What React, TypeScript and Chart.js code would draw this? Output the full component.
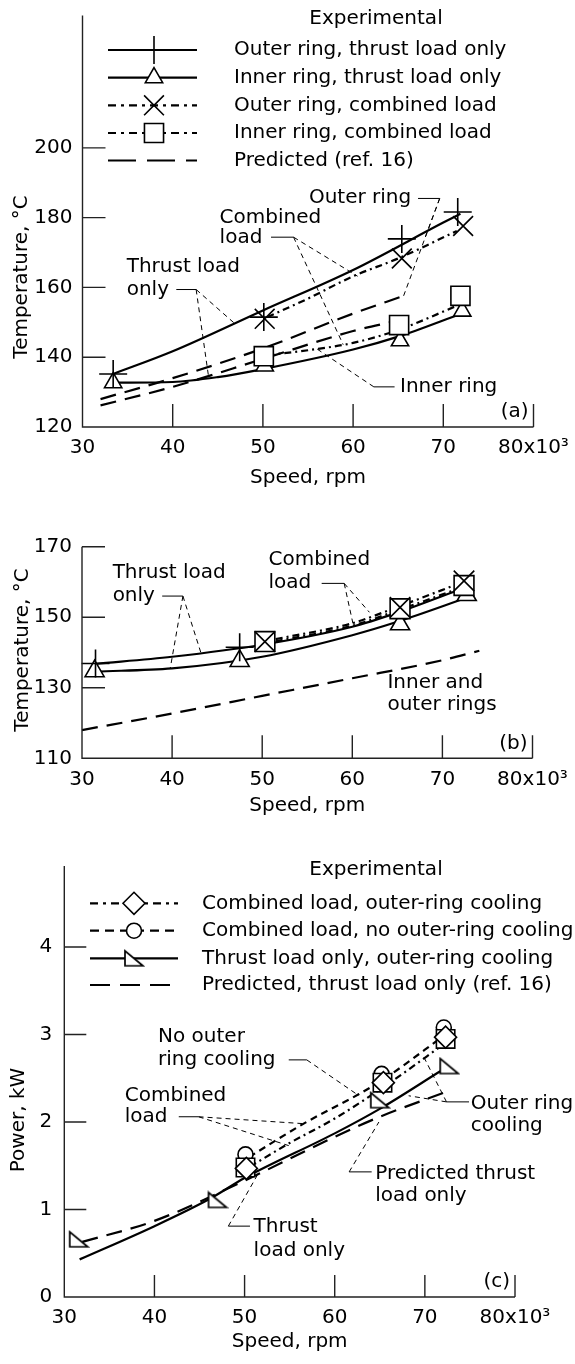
import React, { useEffect, useRef } from 'react';
import { Chart, registerables } from 'chart.js';
import { drawPoint } from 'chart.js/helpers';

Chart.register(...registerables);

const FONT_FAMILY = '"DejaVu Sans", "Liberation Sans", sans-serif';
const FONT_SIZE = 20;
const INK = '#000';
const AXIS_INK = '#222';

// ---------- shared axis data ----------
const speedTicks = [30, 40, 50, 60, 70, 80];
const speedTickLabels = ['30', '40', '50', '60', '70', '80x10³'];
const speedTitle = 'Speed, rpm';

// ---------- panel (a) ----------
const aTempTicks = [120, 140, 160, 180, 200];
const aTempRange = [120, 237.9];
const aTempTitle = 'Temperature, °C';
const aTag = '(a)';
const aHeader = 'Experimental';

const aOuterThrustMarkSpeed = [33.4, 50.1, 65.4, 71.6];
const aOuterThrustMarkTemp = [135.2, 151.5, 173.9, 181.6];
const aInnerThrustMarkSpeed = [33.4, 50.2, 65.2, 72.1];
const aInnerThrustMarkTemp = [132.7, 137.5, 144.7, 153.2];
const aOuterCombMarkSpeed = [50.2, 65.4, 72.2];
const aOuterCombMarkTemp = [151.0, 168.3, 177.6];
const aInnerCombMarkSpeed = [50.1, 65.1, 71.9];
const aInnerCombMarkTemp = [140.3, 149.2, 157.6];

const aOuterThrustCurveSpeed = [33.4, 40, 50, 60, 70, 71.9];
const aOuterThrustCurveTemp = [135.2, 141.7, 153.4, 165.0, 178.6, 181.1];
const aInnerThrustCurveSpeed = [33.6, 40, 45, 50, 60, 65, 71.9];
const aInnerThrustCurveTemp = [132.7, 132.9, 134.3, 136.6, 142.2, 145.9, 152.4];
const aOuterCombCurveSpeed = [50.5, 55, 60, 65, 71.5];
const aOuterCombCurveTemp = [151.5, 156.8, 163.2, 168.3, 176.2];
const aInnerCombCurveSpeed = [50.5, 55, 60, 65, 72];
const aInnerCombCurveTemp = [140.6, 142.0, 144.1, 147.8, 155.3];
const aPredOuterSpeed = [32, 40, 50, 60, 65.6];
const aPredOuterTemp = [128.0, 134.0, 142.5, 152.5, 157.6];
const aPredInnerSpeed = [32, 40, 50, 60, 65];
const aPredInnerTemp = [126.2, 131.5, 139.5, 147.5, 150.5];

// ---------- panel (b) ----------
const bTempTicks = [110, 130, 150, 170];
const bTempRange = [110, 170];
const bTempTitle = 'Temperature, °C';
const bTag = '(b)';

const bOuterThrustMarkSpeed = [31.5, 47.5];
const bOuterThrustMarkTemp = [136.9, 141.5];
const bInnerThrustMarkSpeed = [31.4, 47.5, 65.3, 72.7];
const bInnerThrustMarkTemp = [134.7, 137.6, 148.0, 156.3];
const bOuterCombMarkSpeed = [50.3, 65.3, 72.4];
const bOuterCombMarkTemp = [143.1, 152.8, 160.3];
const bInnerCombMarkSpeed = [50.3, 65.3, 72.4];
const bInnerCombMarkTemp = [143.1, 152.4, 159.0];

const bOuterThrustCurveSpeed = [31.5, 40, 50, 60, 65, 72.3];
const bOuterThrustCurveTemp = [136.8, 138.8, 142.2, 147.3, 151.3, 158.2];
const bInnerThrustCurveSpeed = [31.5, 40, 50, 60, 65, 73];
const bInnerThrustCurveTemp = [134.6, 135.5, 138.8, 144.9, 148.7, 155.8];
const bOuterCombCurveSpeed = [51.5, 60, 65, 72.3];
const bOuterCombCurveTemp = [143.8, 148.3, 152.9, 160.0];
const bInnerCombCurveSpeed = [51.5, 60, 65, 72.3];
const bInnerCombCurveTemp = [143.2, 147.6, 151.9, 158.6];
const bPredSpeed = [30, 40, 50, 60, 70, 74.1];
const bPredTemp = [118.0, 122.7, 127.7, 132.7, 137.8, 140.5];

// ---------- panel (c) ----------
const cPowerTicks = [0, 1, 2, 3, 4];
const cPowerRange = [0, 4.926];
const cPowerTitle = 'Power, kW';
const cTag = '(c)';
const cHeader = 'Experimental';

const cCoolMarkSpeed = [50.2, 65.4, 72.3];
const cCoolMarkPower = [1.47, 2.45, 2.97];
const cSquareMarkSpeed = [50.1, 65.3, 72.3];
const cSquareMarkPower = [1.48, 2.45, 2.95];
const cNoCoolMarkSpeed = [50.1, 65.2, 72.1];
const cNoCoolMarkPower = [1.63, 2.55, 3.08];
const cThrustMarkSpeed = [31.6, 47.0, 65.0, 72.7];
const cThrustMarkPower = [0.66, 1.11, 2.25, 2.64];

const cThrustCurveSpeed = [31.7, 40, 46.1, 50, 60, 65, 71.7];
const cThrustCurvePower = [0.43, 0.81, 1.12, 1.36, 1.87, 2.15, 2.58];
const cPredSpeed = [32, 40, 50, 60, 65, 72.5];
const cPredPower = [0.63, 0.87, 1.33, 1.83, 2.06, 2.35];
const cNoCoolCurveSpeed = [50.5, 56.7, 62.7, 65.3, 72.3];
const cNoCoolCurvePower = [1.60, 1.99, 2.32, 2.48, 3.00];
const cCoolCurveSpeed = [50.6, 55, 60, 65.7, 72.5];
const cCoolCurvePower = [1.49, 1.76, 2.04, 2.42, 2.92];

// ---------- annotation layout (data coordinates) ----------
const notesA = [
  { lines: [['Outer ring', 55.1, 185.7]], stub: [[67.2, 185.5], [69.6, 185.5]], from: [69.6, 185.5], to: [[65.6, 157.6], [68.0, 174.4]] },
  { lines: [['Combined', 45.2, 180.0], ['load', 45.2, 174.1]], stub: [[50.9, 174.4], [53.4, 174.4]], from: [53.4, 174.4], to: [[60.5, 163.2], [58.9, 143.6]] },
  { lines: [['Thrust load', 34.9, 166.0], ['only', 34.9, 159.4]], stub: [[40.4, 159.4], [42.6, 159.4]], from: [42.6, 159.4], to: [[46.9, 149.6], [44.0, 134.0]] },
  { lines: [['Inner ring', 65.2, 131.5]], stub: [[62.3, 131.5], [64.6, 131.5]], from: [62.3, 131.5], to: [[55.8, 142.7]] },
];
const notesB = [
  { lines: [['Thrust load', 33.4, 162.6], ['only', 33.4, 156.0]], stub: [[38.9, 156.0], [41.2, 156.0]], from: [41.2, 156.0], to: [[39.8, 135.6], [43.2, 139.9]] },
  { lines: [['Combined', 50.7, 166.4], ['load', 50.7, 159.8]], stub: [[56.6, 159.6], [59.1, 159.6]], from: [59.1, 159.6], to: [[60.1, 147.9], [61.9, 151.4]] },
  { lines: [['Inner and', 63.9, 131.5], ['outer rings', 63.9, 125.2]] },
];
const notesC = [
  { lines: [['No outer', 40.4, 2.97], ['ring cooling', 40.4, 2.71]], stub: [[54.9, 2.71], [56.9, 2.71]], from: [56.9, 2.71], to: [[62.7, 2.30]] },
  { lines: [['Combined', 36.7, 2.30], ['load', 36.7, 2.06]], stub: [[42.7, 2.06], [44.9, 2.06]], from: [44.9, 2.06], to: [[56.7, 1.98], [54.9, 1.73]] },
  { lines: [['Outer ring', 75.1, 2.21], ['cooling', 75.1, 1.96]], stub: [[72.4, 2.23], [74.9, 2.23]], from: [72.4, 2.23], to: [[69.8, 2.76], [68.2, 2.30]] },
  { lines: [['Predicted thrust', 64.5, 1.41], ['load only', 64.5, 1.16]], stub: [[61.6, 1.43], [64.1, 1.43]], from: [61.6, 1.43], to: [[64.9, 2.0]] },
  { lines: [['Thrust', 51.0, 0.80], ['load only', 51.0, 0.53]], stub: [[48.2, 0.81], [50.6, 0.81]], from: [48.2, 0.81], to: [[51.4, 1.39]] },
];

// ---------- styles ----------
const DOT_DASH = [7, 4, 2, 4];
const SHORT_DASH = [7, 5];
const LONG_DASH = [16, 9];

const zip = (xs: number[], ys: number[]) => xs.map((x, i) => ({ x, y: ys[i] }));

function curve(label: string, xs: number[], ys: number[], dash: number[] = []) {
  return {
    label,
    data: zip(xs, ys),
    borderColor: INK,
    borderWidth: 2.2,
    borderDash: dash,
    pointRadius: 0,
    pointHoverRadius: 0,
    cubicInterpolationMode: 'monotone',
    fill: false,
    clip: false,
    order: 20,
  };
}

function marks(label: string, xs: number[], ys: number[], style: any, radius: number, order: number) {
  return {
    label,
    data: zip(xs, ys),
    showLine: false,
    pointStyle: style,
    pointRadius: radius,
    pointHoverRadius: radius,
    pointBackgroundColor: '#fff',
    pointBorderColor: INK,
    pointBorderWidth: 1.6,
    clip: false,
    order,
  };
}

function rightTriangle(w: number, h: number) {
  const c = document.createElement('canvas');
  c.width = w + 4;
  c.height = h + 4;
  const g = c.getContext('2d')!;
  g.fillStyle = '#fff';
  g.strokeStyle = INK;
  g.lineWidth = 1.7;
  g.lineJoin = 'miter';
  g.beginPath();
  g.moveTo(2, 2);
  g.lineTo(2, h + 2);
  g.lineTo(w + 2, h + 2);
  g.closePath();
  g.fill();
  g.stroke();
  return c;
}

const decoPlugin = {
  id: 'deco',
  afterDraw(chart: any, _args: any, o: any) {
    const { ctx, chartArea: ca } = chart;
    const xs = chart.scales.x;
    const ys = chart.scales.y;
    const X = (v: number) => xs.getPixelForValue(v);
    const Y = (v: number) => ys.getPixelForValue(v);
    ctx.save();
    ctx.font = `${FONT_SIZE}px ${FONT_FAMILY}`;
    ctx.fillStyle = INK;
    ctx.lineCap = 'butt';

    // axis lines and inward tick marks
    ctx.strokeStyle = AXIS_INK;
    ctx.lineWidth = 1.4;
    ctx.setLineDash([]);
    ctx.beginPath();
    ctx.moveTo(ca.left, ca.top);
    ctx.lineTo(ca.left, ca.bottom);
    ctx.lineTo(ca.right, ca.bottom);
    o.yMarks.forEach((v: number) => {
      const p = Y(v);
      ctx.moveTo(ca.left, p);
      ctx.lineTo(ca.left + o.tick, p);
    });
    o.xMarks.forEach((v: number) => {
      const p = X(v);
      ctx.moveTo(p, ca.bottom);
      ctx.lineTo(p, ca.bottom - o.tick);
    });
    ctx.stroke();

    // axis titles
    ctx.textAlign = 'center';
    ctx.textBaseline = 'middle';
    ctx.fillText(o.xTitle, (ca.left + ca.right) / 2, ca.bottom + o.xTitleGap);
    ctx.save();
    ctx.translate(o.yTitleX, o.yTitleY);
    ctx.rotate(-Math.PI / 2);
    ctx.fillText(o.yTitle, 0, 0);
    ctx.restore();

    // panel tag
    ctx.textAlign = 'right';
    ctx.fillText(o.tag, ca.right - 5, ca.bottom - 15);

    // notes with leaders
    ctx.textAlign = 'left';
    for (const n of o.notes) {
      n.lines.forEach((l: any) => ctx.fillText(l[0], X(l[1]), Y(l[2])));
      ctx.strokeStyle = INK;
      ctx.lineWidth = 1;
      if (n.stub) {
        ctx.setLineDash([]);
        ctx.beginPath();
        ctx.moveTo(X(n.stub[0][0]), Y(n.stub[0][1]));
        ctx.lineTo(X(n.stub[1][0]), Y(n.stub[1][1]));
        ctx.stroke();
      }
      if (n.to) {
        ctx.setLineDash([5, 4]);
        ctx.beginPath();
        n.to.forEach((t: number[]) => {
          ctx.moveTo(X(n.from[0]), Y(n.from[1]));
          ctx.lineTo(X(t[0]), Y(t[1]));
        });
        ctx.stroke();
      }
    }

    // legend
    const L = o.legend;
    if (L) {
      ctx.setLineDash([]);
      ctx.fillStyle = INK;
      ctx.textAlign = 'center';
      ctx.fillText(L.header, L.headerX, L.headerY);
      L.rows.forEach((r: any, i: number) => {
        const y = L.rowY[i];
        const ds = chart.data.datasets[r.ds];
        ctx.strokeStyle = INK;
        ctx.lineWidth = 2.2;
        ctx.setLineDash(r.dash);
        ctx.beginPath();
        ctx.moveTo(L.x1, y);
        ctx.lineTo(L.x2, y);
        ctx.stroke();
        ctx.setLineDash([]);
        if (r.marker) {
          ctx.fillStyle = '#fff';
          ctx.strokeStyle = INK;
          ctx.lineWidth = 1.6;
          drawPoint(ctx, { pointStyle: ds.pointStyle, radius: ds.pointRadius, borderWidth: 1.6, rotation: 0 }, L.mx, y);
        }
        ctx.fillStyle = INK;
        ctx.textAlign = 'left';
        ctx.fillText(ds.label, L.tx, y);
      });
    }
    ctx.restore();
  },
};

function makeScales(yRange: number[], yTicks: number[], yPad: number) {
  const font = { family: FONT_FAMILY, size: FONT_SIZE };
  const zeroPad = (s: any) => {
    s.paddingLeft = 0;
    s.paddingRight = 0;
    s.paddingTop = 0;
    s.paddingBottom = 0;
  };
  return {
    x: {
      type: 'linear',
      min: 30,
      max: 80,
      afterBuildTicks: (s: any) => {
        s.ticks = speedTicks.map((v) => ({ value: v }));
      },
      afterFit: (s: any) => {
        s.height = 40;
        zeroPad(s);
      },
      grid: { display: false, drawTicks: false },
      border: { display: false },
      ticks: {
        autoSkip: false,
        maxRotation: 0,
        padding: 9,
        color: INK,
        font,
        callback: (v: any) => speedTickLabels[speedTicks.indexOf(v)] ?? '',
      },
    },
    y: {
      type: 'linear',
      min: yRange[0],
      max: yRange[1],
      afterBuildTicks: (s: any) => {
        s.ticks = yTicks.map((v) => ({ value: v }));
      },
      afterFit: (s: any) => {
        s.width = 60;
        zeroPad(s);
      },
      grid: { display: false, drawTicks: false },
      border: { display: false },
      ticks: { padding: yPad, color: INK, font, callback: (v: any) => String(v) },
    },
  };
}

function baseConfig(datasets: any[], scales: any, padding: any, deco: any) {
  return {
    type: 'line',
    data: { datasets },
    options: {
      animation: false,
      responsive: false,
      maintainAspectRatio: false,
      events: [],
      layout: { padding },
      scales,
      plugins: { legend: { display: false }, tooltip: { enabled: false }, deco },
    },
    plugins: [decoPlugin],
  };
}

function buildA() {
  const datasets = [
    marks('Outer ring, combined load', aOuterCombMarkSpeed, aOuterCombMarkTemp, 'crossRot', 14, 0),
    marks('Outer ring, thrust load only', aOuterThrustMarkSpeed, aOuterThrustMarkTemp, 'cross', 14, 1),
    marks('Inner ring, combined load', aInnerCombMarkSpeed, aInnerCombMarkTemp, 'rect', 13.5, 2),
    marks('Inner ring, thrust load only', aInnerThrustMarkSpeed, aInnerThrustMarkTemp, 'triangle', 10, 3),
    curve('Outer ring, thrust load only (fit)', aOuterThrustCurveSpeed, aOuterThrustCurveTemp),
    curve('Inner ring, thrust load only (fit)', aInnerThrustCurveSpeed, aInnerThrustCurveTemp),
    curve('Outer ring, combined load (fit)', aOuterCombCurveSpeed, aOuterCombCurveTemp, DOT_DASH),
    curve('Inner ring, combined load (fit)', aInnerCombCurveSpeed, aInnerCombCurveTemp, DOT_DASH),
    curve('Predicted (ref. 16)', aPredOuterSpeed, aPredOuterTemp, LONG_DASH),
    curve('Predicted, inner ring (ref. 16)', aPredInnerSpeed, aPredInnerTemp, LONG_DASH),
  ];
  const deco = {
    tick: 23,
    yMarks: aTempTicks.slice(1),
    xMarks: speedTicks.slice(1),
    xTitle: speedTitle,
    xTitleGap: 51,
    yTitle: aTempTitle,
    yTitleX: 22,
    yTitleY: 277,
    tag: aTag,
    notes: notesA,
    legend: {
      header: aHeader,
      headerX: 376,
      headerY: 19,
      rowY: [50, 77.7, 105.3, 133, 160.5],
      x1: 108,
      x2: 197,
      mx: 154,
      tx: 234,
      rows: [
        { ds: 1, dash: [], marker: true },
        { ds: 3, dash: [], marker: true },
        { ds: 0, dash: [8, 5, 3, 5], marker: true },
        { ds: 2, dash: [8, 5, 3, 5], marker: true },
        { ds: 8, dash: [28, 11], marker: false },
      ],
    },
  };
  return baseConfig(datasets, makeScales(aTempRange, aTempTicks, 10), { left: 22.5, right: 41.5, top: 10, bottom: 33 }, deco);
}

function buildB() {
  const datasets = [
    marks('Outer ring, combined load', bOuterCombMarkSpeed, bOuterCombMarkTemp, 'crossRot', 14.5, 0),
    marks('Inner ring, combined load', bInnerCombMarkSpeed, bInnerCombMarkTemp, 'rect', 14, 1),
    marks('Outer ring, thrust load only', bOuterThrustMarkSpeed, bOuterThrustMarkTemp, 'cross', 14, 2),
    marks('Inner ring, thrust load only', bInnerThrustMarkSpeed, bInnerThrustMarkTemp, 'triangle', 11, 3),
    curve('Outer ring, thrust load only (fit)', bOuterThrustCurveSpeed, bOuterThrustCurveTemp),
    curve('Inner ring, thrust load only (fit)', bInnerThrustCurveSpeed, bInnerThrustCurveTemp),
    curve('Outer ring, combined load (fit)', bOuterCombCurveSpeed, bOuterCombCurveTemp, DOT_DASH),
    curve('Inner ring, combined load (fit)', bInnerCombCurveSpeed, bInnerCombCurveTemp, DOT_DASH),
    curve('Predicted, inner and outer rings (ref. 16)', bPredSpeed, bPredTemp, LONG_DASH),
  ];
  const deco = {
    tick: 23,
    yMarks: bTempTicks.slice(1),
    xMarks: speedTicks.slice(1),
    xTitle: speedTitle,
    xTitleGap: 47,
    yTitle: bTempTitle,
    yTitleX: 23,
    yTitleY: 150,
    tag: bTag,
    notes: notesB,
    legend: null,
  };
  return baseConfig(datasets, makeScales(bTempRange, bTempTicks, 10), { left: 22, right: 42.5, top: 46.7, bottom: 31.7 }, deco);
}

function buildC() {
  const tri = rightTriangle(18, 15);
  const datasets = [
    marks('Combined load, outer-ring cooling', cCoolMarkSpeed, cCoolMarkPower, 'rectRot', 11, 0),
    marks('Combined load (overlaid symbol)', cSquareMarkSpeed, cSquareMarkPower, 'rect', 13, 1),
    marks('Combined load, no outer-ring cooling', cNoCoolMarkSpeed, cNoCoolMarkPower, 'circle', 7.5, 2),
    marks('Thrust load only, outer-ring cooling', cThrustMarkSpeed, cThrustMarkPower, tri, 9, 3),
    curve('Thrust load only, outer-ring cooling (fit)', cThrustCurveSpeed, cThrustCurvePower),
    curve('Predicted, thrust load only (ref. 16)', cPredSpeed, cPredPower, LONG_DASH),
    curve('Combined load, no outer-ring cooling (fit)', cNoCoolCurveSpeed, cNoCoolCurvePower, SHORT_DASH),
    curve('Combined load, outer-ring cooling (fit)', cCoolCurveSpeed, cCoolCurvePower, DOT_DASH),
  ];
  const deco = {
    tick: 22,
    yMarks: cPowerTicks.slice(1),
    xMarks: speedTicks.slice(1),
    xTitle: speedTitle,
    xTitleGap: 45,
    yTitle: cPowerTitle,
    yTitleX: 18.5,
    yTitleY: 290,
    tag: cTag,
    notes: notesC,
    legend: {
      header: cHeader,
      headerX: 376,
      headerY: 40,
      rowY: [73.3, 100.7, 128.3, 155],
      x1: 90,
      x2: 178,
      mx: 134,
      tx: 202,
      rows: [
        { ds: 0, dash: [8, 5, 3, 5], marker: true },
        { ds: 2, dash: [9, 6], marker: true },
        { ds: 3, dash: [], marker: true },
        { ds: 5, dash: [20, 10], marker: false },
      ],
    },
  };
  return baseConfig(datasets, makeScales(cPowerRange, cPowerTicks, 12), { left: 4.3, right: 60, top: 36, bottom: 27 }, deco);
}

function ChartCanvas({ build, top, height }: { build: () => any; top: number; height: number }) {
  const ref = useRef<HTMLCanvasElement>(null);
  useEffect(() => {
    const chart = new Chart(ref.current as HTMLCanvasElement, build());
    return () => chart.destroy();
  }, []);
  return (
    <canvas
      ref={ref}
      width={575}
      height={height}
      style={{ position: 'absolute', left: 0, top, width: 575, height, display: 'block' }}
    />
  );
}

export default function App() {
  return (
    <div style={{ position: 'absolute', left: 0, top: 0, width: 575, height: 1364, background: '#fff', overflow: 'hidden' }}>
      <ChartCanvas build={buildA} top={0} height={500} />
      <ChartCanvas build={buildB} top={500} height={330} />
      <ChartCanvas build={buildC} top={830} height={534} />
    </div>
  );
}
